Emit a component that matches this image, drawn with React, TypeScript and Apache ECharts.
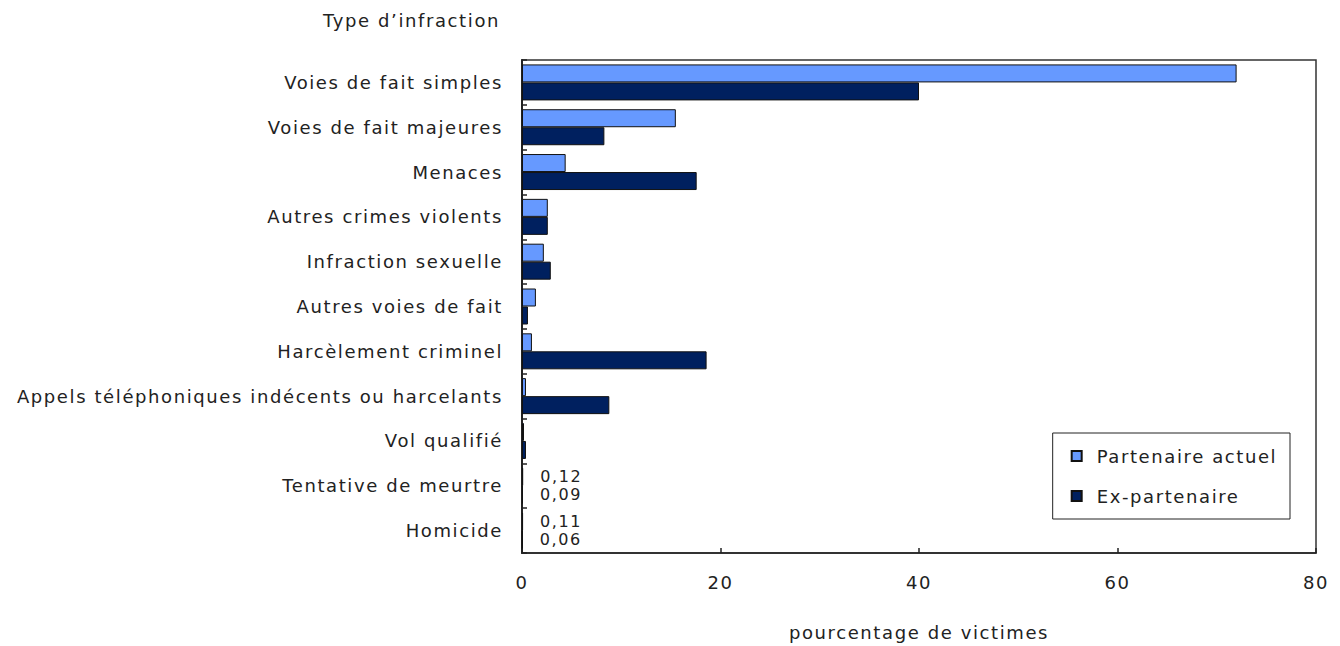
import React, { useEffect, useRef } from "react";
import * as echarts from "echarts";

const categories = [
  "Voies de fait simples",
  "Voies de fait majeures",
  "Menaces",
  "Autres crimes violents",
  "Infraction sexuelle",
  "Autres voies de fait",
  "Harcèlement criminel",
  "Appels téléphoniques indécents ou harcelants",
  "Vol qualifié",
  "Tentative de meurtre",
  "Homicide",
];
const partenaireActuel = [72.0, 15.5, 4.4, 2.6, 2.2, 1.4, 1.0, 0.4, 0.2, 0.12, 0.11];
const exPartenaire = [40.0, 8.3, 17.6, 2.6, 2.9, 0.6, 18.6, 8.8, 0.4, 0.09, 0.06];
const labelledCategories = ["Tentative de meurtre", "Homicide"];
const xTicks = { min: 0, max: 80, interval: 20 };

const FONT = "DejaVu Sans";
const TEXT = "#222";

export default function App() {
  const ref = useRef<HTMLDivElement>(null);
  useEffect(() => {
    if (!ref.current) return;
    const chart = echarts.init(ref.current, null, { renderer: "svg" });
    const mk = (vals: number[]) =>
      vals.map((v, i) => ({
        value: v,
        label: { show: labelledCategories.includes(categories[i]) },
      }));
    const labelCfg = {
      position: "right",
      distance: 17,
      fontFamily: FONT,
      fontSize: 16,
      lineHeight: 16,
      color: TEXT,
      formatter: (p: any) => String(p.value).replace(".", ","),
    };
    chart.setOption({
      animation: false,
      backgroundColor: "#fff",
      textStyle: { fontFamily: FONT, fontSize: 18, color: TEXT },
      grid: {
        left: 522,
        right: 24,
        top: 60,
        bottom: 90,
        show: true,
        borderColor: "#333",
        borderWidth: 1.5,
        backgroundColor: "transparent",
      },
      graphic: [
        {
          type: "text",
          x: 500,
          y: 20,
          style: {
            text: "Type d’infraction",
            fontFamily: FONT,
            fontSize: 18,
            fill: TEXT,
            align: "right",
            verticalAlign: "middle",
          },
        },
      ],
      legend: {
        orient: "vertical",
        right: 50,
        top: 433,
        backgroundColor: "#fff",
        borderColor: "#222",
        borderWidth: 1,
        padding: [14, 40, 14, 18],
        itemGap: 22,
        itemWidth: 10,
        itemHeight: 10,
        icon: "rect",
        textStyle: { fontFamily: FONT, fontSize: 18, color: TEXT, padding: [0, 0, 0, 10] },
        data: ["Partenaire actuel", "Ex-partenaire"],
      },
      xAxis: {
        type: "value",
        min: xTicks.min,
        max: xTicks.max,
        interval: xTicks.interval,
        name: "pourcentage de victimes",
        nameLocation: "middle",
        nameGap: 70,
        nameTextStyle: { fontFamily: FONT, fontSize: 18, color: TEXT },
        axisLine: { show: true, lineStyle: { color: "#222", width: 1.5 } },
        axisTick: { show: true, inside: true, length: 5, lineStyle: { color: "#222", width: 1.5 } },
        axisLabel: { margin: 20, fontFamily: FONT, fontSize: 18, color: TEXT },
        splitLine: { show: false },
      },
      yAxis: {
        type: "category",
        inverse: true,
        data: categories,
        axisLine: { show: true, lineStyle: { color: "#222", width: 2 } },
        axisTick: { show: true, inside: true, length: 5, lineStyle: { color: "#222", width: 1.5 } },
        axisLabel: { margin: 19, fontFamily: FONT, fontSize: 18, color: TEXT },
      },
      series: [
        {
          name: "Partenaire actuel",
          type: "bar",
          data: mk(partenaireActuel),
          barWidth: 18,
          barGap: "0%",
          itemStyle: { color: "#6699FF", borderColor: "#111", borderWidth: 1 },
          label: labelCfg,
        },
        {
          name: "Ex-partenaire",
          type: "bar",
          data: mk(exPartenaire),
          barWidth: 18,
          barGap: "0%",
          itemStyle: { color: "#00205F", borderColor: "#111", borderWidth: 1 },
          label: labelCfg,
        },
      ],
    });
    return () => chart.dispose();
  }, []);
  return (
    <>
      <style>{`body{margin:0}.chartbox text{letter-spacing:1.6px}`}</style>
      <div className="chartbox" ref={ref} style={{ width: 1340, height: 646 }} />
    </>
  );
}
